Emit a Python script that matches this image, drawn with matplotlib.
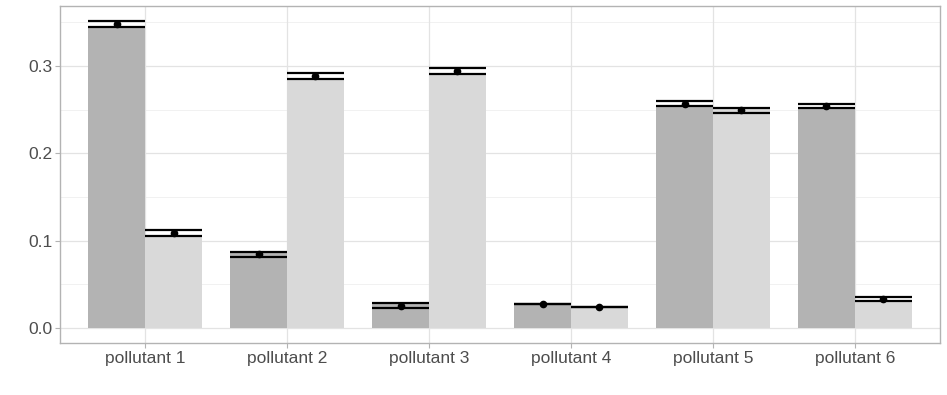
import numpy as np
import matplotlib.pyplot as plt

plt.rcParams['font.family'] = ['Liberation Sans', 'DejaVu Sans']

pollutants = ['pollutant 1', 'pollutant 2', 'pollutant 3',
              'pollutant 4', 'pollutant 5', 'pollutant 6']

# bar heights (two groups per pollutant)
bar_dark = [0.3455, 0.0874, 0.0283, 0.0275, 0.2553, 0.2523]
bar_light = [0.1057, 0.2855, 0.2905, 0.0244, 0.2523, 0.0306]

# point estimates and half-widths of the error bars
mean_dark = [0.3481, 0.0845, 0.0255, 0.0275, 0.2568, 0.2542]
err_dark = [0.0032, 0.0029, 0.0027, 0.0, 0.0027, 0.0027]
mean_light = [0.1088, 0.2885, 0.2940, 0.0244, 0.2492, 0.0332]
err_light = [0.0033, 0.0031, 0.0036, 0.0, 0.0029, 0.0027]

fig = plt.figure(figsize=(9.47, 3.95), dpi=100)
ax = fig.add_axes([60 / 947, 52 / 395, 880 / 947, 337 / 395])

x = np.arange(len(pollutants))
w = 0.4

# grid (theme_light look)
for yv in [0.05, 0.15, 0.25, 0.35]:
    ax.axhline(yv, color='#efefef', lw=0.6, zorder=0)
for yv in [0.0, 0.1, 0.2, 0.3]:
    ax.axhline(yv, color='#e3e3e3', lw=0.9, zorder=0)
for xv in x:
    ax.axvline(xv, color='#e3e3e3', lw=0.9, zorder=0)

ax.bar(x - w / 2, bar_dark, width=w, color='#b3b3b3', zorder=2)
ax.bar(x + w / 2, bar_light, width=w, color='#d9d9d9', zorder=2)

for xs, m, e in [(x - w / 2, mean_dark, err_dark), (x + w / 2, mean_light, err_light)]:
    m = np.array(m)
    e = np.array(e)
    ax.hlines(m + e, xs - w / 2, xs + w / 2, color='black', lw=1.6, zorder=3)
    ax.hlines(m - e, xs - w / 2, xs + w / 2, color='black', lw=1.6, zorder=3)
    ax.vlines(xs, m - e, m + e, color='black', lw=1.6, zorder=3)
    ax.plot(xs, m, 'o', color='black', ms=4.5, zorder=4)

ax.set_xlim(-0.6, 5.6)
ax.set_ylim(-0.0172, 0.3687)
ax.set_xticks(x)
ax.set_xticklabels(pollutants)
ax.set_yticks([0.0, 0.1, 0.2, 0.3])
ax.set_yticklabels(['0.0', '0.1', '0.2', '0.3'])

for sp in ax.spines.values():
    sp.set_color('#b3b3b3')
    sp.set_linewidth(1.0)
ax.tick_params(axis='both', colors='#b3b3b3', labelcolor='#4d4d4d',
               labelsize=12.5, length=3.5, width=0.8, pad=2)

fig.savefig('out.png', dpi=100)
